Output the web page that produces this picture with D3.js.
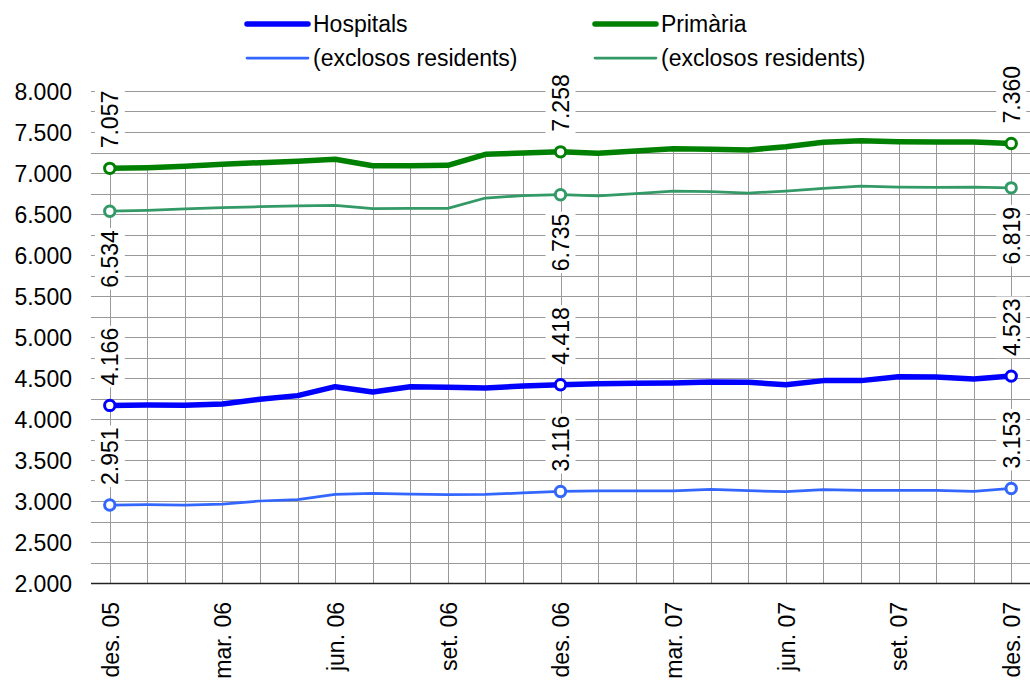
<!DOCTYPE html>
<html>
<head>
<meta charset="utf-8">
<script src="https://cdn.jsdelivr.net/npm/d3@7"></script>
<style>
  body { margin: 0; background: #fff; }
  svg { display: block; font-family: "Liberation Sans", Arial, sans-serif; }
  .tick text { fill: #000; font-size: 23px; }
  .lbl { font-size: 23px; fill: #000; }
</style>
</head>
<body>
<svg id="chart"></svg>
<script>
// months on the category axis
const months = ['des. 05', 'gen. 06', 'febr. 06', 'mar. 06', 'abr. 06', 'maig 06', 'jun. 06',
	'jul. 06', 'ag. 06', 'set. 06', 'oct. 06', 'nov. 06', 'des. 06', 'gen. 07', 'febr. 07',
	'mar. 07', 'abr. 07', 'maig 07', 'jun. 07', 'jul. 07', 'ag. 07', 'set. 07', 'oct. 07',
	'nov. 07', 'des. 07'];

// series values
const hospitals = [4166, 4171, 4167, 4183, 4240, 4285, 4394, 4329, 4394, 4386, 4378, 4402, 4418,
	4431, 4435, 4439, 4451, 4447, 4419, 4468, 4468, 4516, 4512, 4488, 4523];
const hospitalsExcl = [2951, 2955, 2951, 2963, 3000, 3016, 3081, 3093, 3085, 3077, 3081, 3098, 3116,
	3122, 3122, 3122, 3142, 3126, 3114, 3138, 3130, 3130, 3130, 3118, 3153];
const primaria = [7057, 7065, 7082, 7106, 7126, 7142, 7167, 7089, 7089, 7093, 7228, 7244, 7258,
	7240, 7268, 7297, 7289, 7280, 7321, 7374, 7394, 7382, 7378, 7378, 7360];
const primariaExcl = [6534, 6545, 6561, 6577, 6589, 6598, 6606, 6565, 6569, 6569, 6695, 6724, 6735,
	6720, 6748, 6780, 6772, 6756, 6780, 6813, 6841, 6829, 6825, 6829, 6819];

const yTicks = [2000, 2500, 3000, 3500, 4000, 4500, 5000, 5500, 6000, 6500, 7000, 7500, 8000];
const labelledIdx = [0, 12, 24];

const series = [
	{ name: 'Hospitals', values: hospitals, color: '#0000ff', width: 5.5, labelPos: 'above' },
	{ name: '(exclosos residents)', values: hospitalsExcl, color: '#3366ff', width: 2.75, labelPos: 'above' },
	{ name: 'Primària', values: primaria, color: '#008000', width: 5.5, labelPos: 'above' },
	{ name: '(exclosos residents)', values: primariaExcl, color: '#339966', width: 2.75, labelPos: 'below' }
];

const W = 1030, H = 684;
const plot = { left: 91, right: 1030, top: 91, bottom: 583 };

const fmt = d3.formatLocale({ decimal: ',', thousands: '.', grouping: [3], currency: ['', '€'] }).format(',.0f');

const svg = d3.select('#chart').attr('width', W).attr('height', H);

const x = d3.scalePoint().domain(months).range([plot.left, plot.right]).padding(0.5);
const y = d3.scaleLinear().domain([2000, 8000]).range([plot.bottom, plot.top]);

// horizontal gridlines every 250
svg.append('g').selectAll('line')
	.data(d3.range(2250, 8001, 250))
	.join('line')
	.attr('x1', plot.left).attr('x2', plot.right)
	.attr('y1', d => Math.round(y(d)) + 0.5).attr('y2', d => Math.round(y(d)) + 0.5)
	.attr('stroke', '#999').attr('stroke-width', 1);

// drop lines from the highest series down to the axis
svg.append('g').selectAll('line')
	.data(months)
	.join('line')
	.attr('x1', d => Math.round(x(d)) + 0.5).attr('x2', d => Math.round(x(d)) + 0.5)
	.attr('y1', (d, i) => y(d3.max(series, s => s.values[i])))
	.attr('y2', y(2000))
	.attr('stroke', '#999').attr('stroke-width', 1);

// category axis line
svg.append('line')
	.attr('x1', plot.left).attr('x2', plot.right)
	.attr('y1', Math.round(y(2000)) + 0.5).attr('y2', Math.round(y(2000)) + 0.5)
	.attr('stroke', '#222').attr('stroke-width', 1.3);

// y axis labels
const yAxisG = svg.append('g')
	.attr('transform', `translate(${plot.left},0)`)
	.call(d3.axisLeft(y).tickValues(yTicks).tickSize(0).tickPadding(19).tickFormat(fmt));
yAxisG.select('.domain').remove();
yAxisG.selectAll('text').attr('dy', '0.36em');

// x axis labels, rotated
const xAxisG = svg.append('g')
	.attr('transform', `translate(0,${plot.bottom})`)
	.call(d3.axisBottom(x).tickValues(months.filter((d, i) => i % 3 === 0)).tickSize(0));
xAxisG.select('.domain').remove();
xAxisG.selectAll('text')
	.attr('text-anchor', 'end')
	.attr('transform', 'rotate(-90)')
	.attr('x', -19)
	.attr('y', 0)
	.attr('dy', '0.36em');

// lines
const line = (vals) => d3.line()
	.x((d, i) => x(months[i]))
	.y(d => y(d))(vals);

svg.append('g').selectAll('path')
	.data(series)
	.join('path')
	.attr('d', s => line(s.values))
	.attr('fill', 'none')
	.attr('stroke', s => s.color)
	.attr('stroke-width', s => s.width)
	.attr('stroke-linejoin', 'round');

// markers at labelled points
series.forEach(s => {
	svg.append('g').selectAll('circle')
		.data(labelledIdx)
		.join('circle')
		.attr('cx', i => x(months[i]))
		.attr('cy', i => y(s.values[i]))
		.attr('r', 5.2)
		.attr('fill', '#fff')
		.attr('stroke', s.color)
		.attr('stroke-width', 3);
});

// data labels with white background
series.forEach(s => {
	labelledIdx.forEach(i => {
		const px = x(months[i]), py = y(s.values[i]);
		const above = s.labelPos === 'above';
		const g = svg.append('g')
			.attr('transform', `translate(${px},${above ? py - 20 : py + 19}) rotate(-90)`);
		const t = g.append('text')
			.attr('class', 'lbl')
			.attr('text-anchor', above ? 'start' : 'end')
			.attr('dy', '0.36em')
			.text(fmt(s.values[i]));
		const bb = t.node().getBBox();
		g.insert('rect', 'text')
			.attr('x', bb.x - 2).attr('y', -15)
			.attr('width', bb.width + 4).attr('height', 30)
			.attr('fill', '#fff');
	});
});

// legend
const legend = [
	{ s: series[0], x: 247, y: 24 },
	{ s: series[1], x: 247, y: 58 },
	{ s: series[2], x: 595, y: 24 },
	{ s: series[3], x: 595, y: 58 }
];
const lg = svg.append('g');
legend.forEach(d => {
	lg.append('line')
		.attr('x1', d.x).attr('x2', d.x + 61)
		.attr('y1', d.y).attr('y2', d.y)
		.attr('stroke', d.s.color)
		.attr('stroke-width', d.s.width)
		.attr('stroke-linecap', 'round');
	lg.append('text')
		.attr('class', 'lbl')
		.attr('x', d.x + 66).attr('y', d.y)
		.attr('dy', '0.36em')
		.text(d.s.name);
});
</script>
</body>
</html>
